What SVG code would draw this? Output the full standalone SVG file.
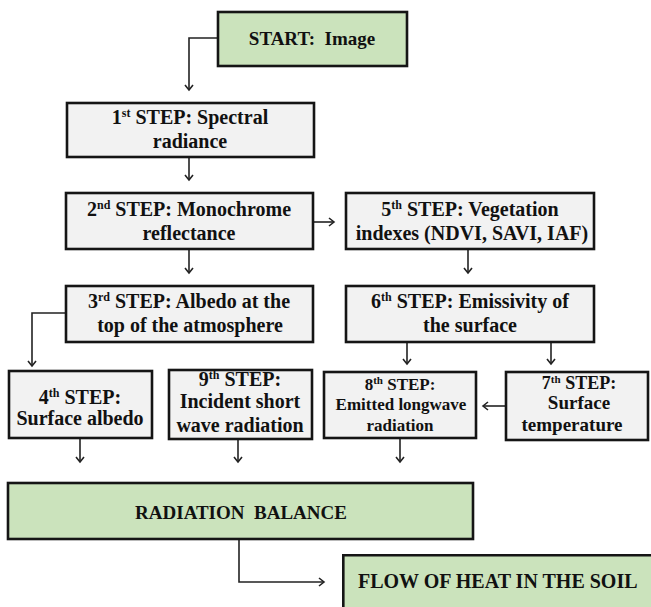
<svg xmlns="http://www.w3.org/2000/svg" width="651" height="607" viewBox="0 0 651 607">
<defs>
<marker id="arr" markerWidth="10" markerHeight="10" refX="8" refY="5" orient="auto" markerUnits="userSpaceOnUse">
<path d="M3,1 L8,5 L3,9" fill="none" stroke="#222" stroke-width="1.6"/>
</marker>
<style>
.g{fill:#CBE3BC;stroke:#151515;stroke-width:2.6}
.b{fill:#F2F2F2;stroke:#151515;stroke-width:2.6}
.c{fill:none;stroke:#222;stroke-width:1.6;marker-end:url(#arr)}
</style>
</defs>
<rect width="651" height="607" fill="#fff"/>
<g id="connectors">
<path class="c" d="M218,38 H189 V90"/>
<path class="c" d="M189,157 V180"/>
<path class="c" d="M189,249 V273"/>
<path class="c" d="M313,222 H334"/>
<path class="c" d="M468,249 V273"/>
<path class="c" d="M66,313 H32 V366"/>
<path class="c" d="M407,342 V364"/>
<path class="c" d="M551,342 V364"/>
<path class="c" d="M506,406 H483"/>
<path class="c" d="M80,438 V462"/>
<path class="c" d="M238,439 V462"/>
<path class="c" d="M400,438 V462"/>
<path class="c" d="M239,539 V582 H324"/>
</g>
<g id="start">
<rect class="g" x="218" y="12" width="189" height="54"/>
<text font-family="Liberation Serif" font-weight="bold" fill="#111" text-anchor="middle" font-size="19" x="312" y="45">START:&#160; Image</text>
</g>
<g id="step1">
<rect class="b" x="67" y="103" width="247" height="54"/>
<text font-family="Liberation Serif" font-weight="bold" fill="#111" text-anchor="middle" font-size="20" x="190" y="124">1<tspan font-size="12" dy="-7">st</tspan><tspan dy="7"> STEP: Spectral</tspan></text>
<text font-family="Liberation Serif" font-weight="bold" fill="#111" text-anchor="middle" font-size="20" x="190" y="148">radiance</text>
</g>
<g id="step2">
<rect class="b" x="66" y="193" width="247" height="56"/>
<text font-family="Liberation Serif" font-weight="bold" fill="#111" text-anchor="middle" font-size="20" x="189" y="216">2<tspan font-size="12" dy="-7">nd</tspan><tspan dy="7"> STEP: Monochrome</tspan></text>
<text font-family="Liberation Serif" font-weight="bold" fill="#111" text-anchor="middle" font-size="20" x="189" y="240">reflectance</text>
</g>
<g id="step5">
<rect class="b" x="346" y="193" width="248" height="56"/>
<text font-family="Liberation Serif" font-weight="bold" fill="#111" text-anchor="middle" font-size="20" x="470" y="216">5<tspan font-size="12" dy="-7">th</tspan><tspan dy="7"> STEP: Vegetation</tspan></text>
<text font-family="Liberation Serif" font-weight="bold" fill="#111" text-anchor="middle" font-size="20" x="472" y="240">indexes (NDVI, SAVI, IAF)</text>
</g>
<g id="step3">
<rect class="b" x="66" y="286" width="247" height="56"/>
<text font-family="Liberation Serif" font-weight="bold" fill="#111" text-anchor="middle" font-size="20" x="189" y="308">3<tspan font-size="12" dy="-7">rd</tspan><tspan dy="7"> STEP: Albedo at the</tspan></text>
<text font-family="Liberation Serif" font-weight="bold" fill="#111" text-anchor="middle" font-size="20" x="190" y="332">top of the atmosphere</text>
</g>
<g id="step6">
<rect class="b" x="346" y="286" width="248" height="56"/>
<text font-family="Liberation Serif" font-weight="bold" fill="#111" text-anchor="middle" font-size="20" x="470" y="308">6<tspan font-size="12" dy="-7">th</tspan><tspan dy="7"> STEP: Emissivity of</tspan></text>
<text font-family="Liberation Serif" font-weight="bold" fill="#111" text-anchor="middle" font-size="20" x="470" y="332">the surface</text>
</g>
<g id="step4">
<rect class="b" x="9" y="371" width="143" height="67"/>
<text font-family="Liberation Serif" font-weight="bold" fill="#111" text-anchor="middle" font-size="20" x="80" y="404">4<tspan font-size="12" dy="-7">th</tspan><tspan dy="7"> STEP:</tspan></text>
<text font-family="Liberation Serif" font-weight="bold" fill="#111" text-anchor="middle" font-size="20" x="80" y="425">Surface albedo</text>
</g>
<g id="step9">
<rect class="b" x="169" y="370" width="143" height="69"/>
<text font-family="Liberation Serif" font-weight="bold" fill="#111" text-anchor="middle" font-size="20" x="240" y="386">9<tspan font-size="12" dy="-7">th</tspan><tspan dy="7"> STEP:</tspan></text>
<text font-family="Liberation Serif" font-weight="bold" fill="#111" text-anchor="middle" font-size="20" x="240" y="408">Incident short</text>
<text font-family="Liberation Serif" font-weight="bold" fill="#111" text-anchor="middle" font-size="20" x="240" y="432">wave radiation</text>
</g>
<g id="step8">
<rect class="b" x="324" y="372" width="152" height="66"/>
<text font-family="Liberation Serif" font-weight="bold" fill="#111" text-anchor="middle" font-size="17" x="400" y="390">8<tspan font-size="11" dy="-6">th</tspan><tspan dy="6"> STEP:</tspan></text>
<text font-family="Liberation Serif" font-weight="bold" fill="#111" text-anchor="middle" font-size="17" x="401" y="410">Emitted longwave</text>
<text font-family="Liberation Serif" font-weight="bold" fill="#111" text-anchor="middle" font-size="17" x="400" y="431">radiation</text>
</g>
<g id="step7">
<rect class="b" x="506" y="372" width="142" height="68"/>
<text font-family="Liberation Serif" font-weight="bold" fill="#111" text-anchor="middle" font-size="18" x="579" y="389">7<tspan font-size="11" dy="-6">th</tspan><tspan dy="6"> STEP:</tspan></text>
<text font-family="Liberation Serif" font-weight="bold" fill="#111" text-anchor="middle" font-size="19" x="579" y="409">Surface</text>
<text font-family="Liberation Serif" font-weight="bold" fill="#111" text-anchor="middle" font-size="19" x="572" y="431">temperature</text>
</g>
<g id="radiation">
<rect class="g" x="8" y="483" width="465" height="56"/>
<text font-family="Liberation Serif" font-weight="bold" fill="#111" text-anchor="middle" font-size="19" x="241" y="519">RADIATION&#160; BALANCE</text>
</g>
<g id="flow">
<rect x="342" y="554" width="309" height="53" fill="#CBE3BC"/>
<path d="M343.3,607 V555.3 H651" fill="none" stroke="#151515" stroke-width="2.6"/>
<text font-family="Liberation Serif" font-weight="bold" fill="#111" font-size="20" x="358" y="588">FLOW OF HEAT IN THE SOIL</text>
</g>
</svg>
